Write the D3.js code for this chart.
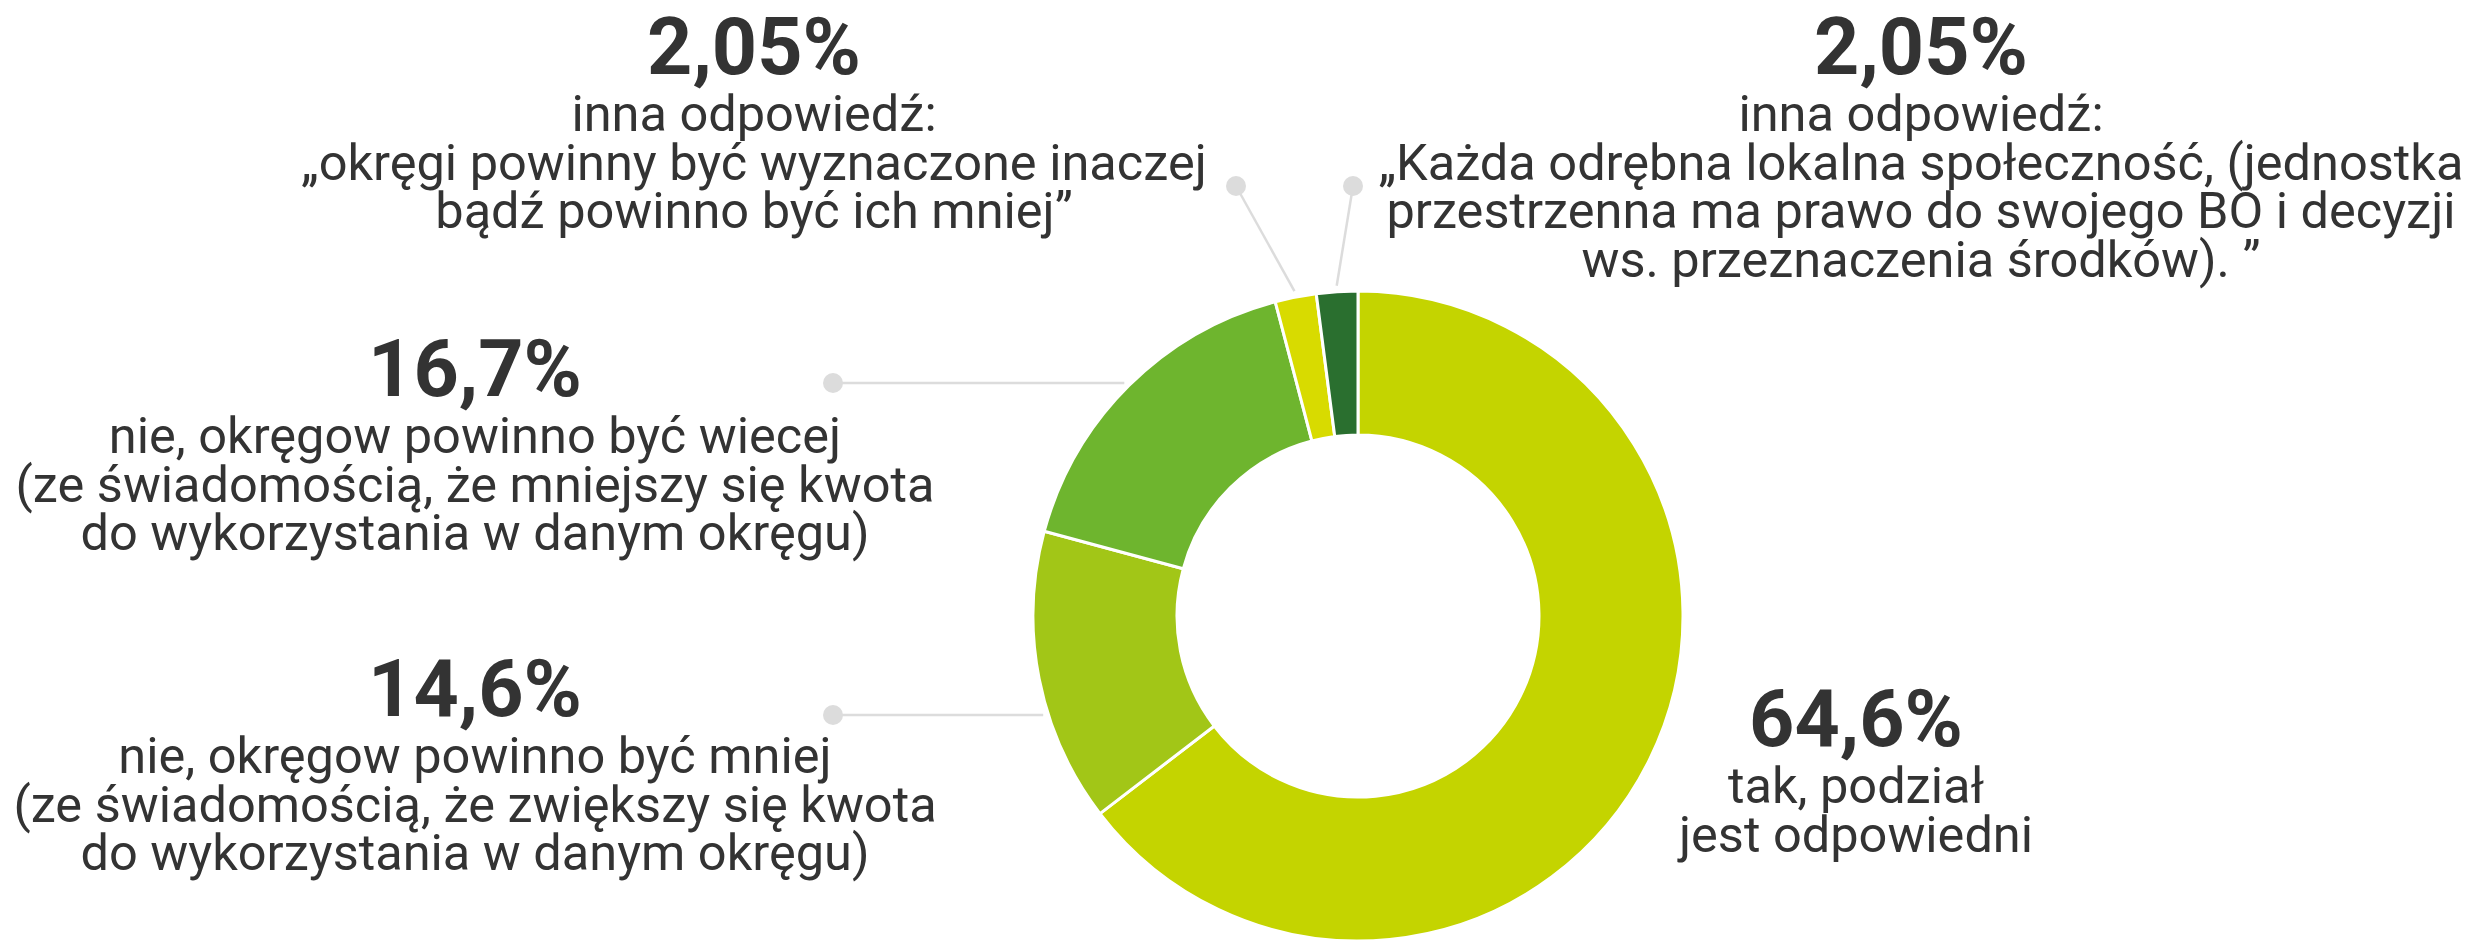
<!DOCTYPE html>
<html>
<head>
  <meta charset="utf-8">
  <style>
    html, body{
      margin:0;
      padding:0;
      background:#fff;
    }
    svg{
      display:block;
      font-family: Roboto, "Noto Sans", sans-serif;
    }
    .pct{
      font-weight:700;
      fill:#333;
    }
    .desc{
      fill:#333;
    }
  </style>
  <script src="https://d3js.org/d3.v7.min.js"></script>
</head>
<body>
<div class="chart"></div>
<script>
// slices, clockwise from 12 o'clock
const categories = [
  ['tak, podział', 'jest odpowiedni'],
  ['nie, okręgow powinno być mniej', '(ze świadomością, że zwiększy się kwota', 'do wykorzystania w danym okręgu)'],
  ['nie, okręgow powinno być wiecej', '(ze świadomością, że mniejszy się kwota', 'do wykorzystania w danym okręgu)'],
  ['inna odpowiedź:', '„okręgi powinny być wyznaczone inaczej', 'bądź powinno być ich mniej”'],
  ['inna odpowiedź:', '„Każda odrębna lokalna społeczność, (jednostka', 'przestrzenna ma prawo do swojego BO i decyzji', 'ws. przeznaczenia środków). ”']
];
const values = [64.6, 14.6, 16.7, 2.05, 2.05];
const valueLabels = ['64,6%', '14,6%', '16,7%', '2,05%', '2,05%'];
const colors = ['#c4d400', '#a2c617', '#6eb52e', '#d8db00', '#2a6f2f'];

// label placement (centre x, baseline of the percentage, leader dot)
const labelPos = [
  {x:1856, y:746, dot:null},
  {x:475, y:716, dot:[833, 715], leader:'horizontal'},
  {x:475, y:396, dot:[833, 383], leader:'horizontal'},
  {x:754, y:74, dot:[1236, 186], leader:'mid'},
  {x:1921, y:74, dot:[1353, 186], leader:'mid'}
];

const width = 2470;
const height = 941;
const cx = 1358, cy = 616;
const outerR = 325, innerR = 181;

const svg = d3.select('.chart')
  .append('svg')
  .attr('width', width)
  .attr('height', height);

const pie = d3.pie().sort(null).value(d => d);
const arcs = pie(values);

const arc = d3.arc()
  .innerRadius(innerR)
  .outerRadius(outerR);

const donut = svg.append('g')
  .attr('transform', `translate(${cx},${cy})`);

donut.selectAll('path')
  .data(arcs)
  .enter()
  .append('path')
  .attr('d', arc)
  .attr('fill', (d, i) => colors[i])
  .attr('stroke', '#fff')
  .attr('stroke-width', 3)
  .attr('stroke-linejoin', 'round');

// leader lines
const leaders = svg.append('g');
arcs.forEach((d, i) => {
  const p = labelPos[i];
  if(!p.dot) return;
  let end;
  if(p.leader === 'mid'){
    const a = (d.startAngle + d.endAngle) / 2;
    const r = outerR + 6;
    end = [cx + r * Math.sin(a), cy - r * Math.cos(a)];
  } else {
    const r = outerR + 5;
    const dy = p.dot[1] - cy;
    end = [cx - Math.sqrt(r * r - dy * dy), p.dot[1]];
  }
  leaders.append('line')
    .attr('x1', p.dot[0])
    .attr('y1', p.dot[1])
    .attr('x2', end[0])
    .attr('y2', end[1])
    .attr('stroke', '#dcdcdc')
    .attr('stroke-width', 2.5);
  leaders.append('circle')
    .attr('cx', p.dot[0])
    .attr('cy', p.dot[1])
    .attr('r', 10)
    .attr('fill', '#dcdcdc');
});

// labels
const labels = svg.append('g')
  .selectAll('g')
  .data(arcs)
  .enter()
  .append('g')
  .attr('transform', (d, i) => `translate(${labelPos[i].x},${labelPos[i].y})`);

labels.append('text')
  .attr('class', 'pct')
  .attr('text-anchor', 'middle')
  .attr('font-size', 79)
  .text((d, i) => valueLabels[i]);

labels.append('text')
  .attr('class', 'desc')
  .attr('text-anchor', 'middle')
  .attr('font-size', 50.5)
  .selectAll('tspan')
  .data((d, i) => categories[i])
  .enter()
  .append('tspan')
  .attr('x', 0)
  .attr('y', (d, j) => 57 + j * 48.5)
  .text(d => d);
</script>
</body>
</html>
